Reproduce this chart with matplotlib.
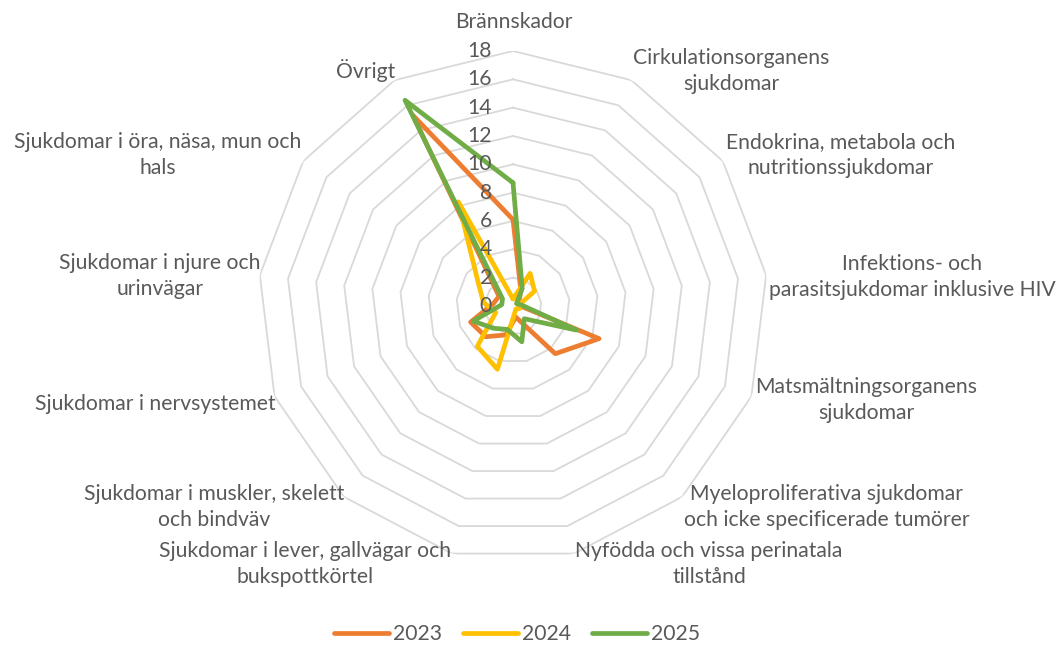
import numpy as np
import matplotlib.pyplot as plt

categories = [
    "Brännskador",
    "Cirkulationsorganens\nsjukdomar",
    "Endokrina, metabola och\nnutritionssjukdomar",
    "Infektions- och\nparasitsjukdomar inklusive HIV",
    "Matsmältningsorganens\nsjukdomar",
    "Myeloproliferativa sjukdomar\noch icke specificerade tumörer",
    "Nyfödda och vissa perinatala\ntillstånd",
    "Sjukdomar i lever, gallvägar och\nbukspottkörtel",
    "Sjukdomar i muskler, skelett\noch bindväv",
    "Sjukdomar i nervsystemet",
    "Sjukdomar i njure och\nurinvägar",
    "Sjukdomar i öra, näsa, mun och\nhals",
    "Övrigt",
]
v2023 = [6.1, 1.2, 0.5, 0.4, 6.5, 4.5, 0.8, 2.1, 2.9, 3.2, 1.4, 1.2, 15.2]
v2024 = [0.5, 2.6, 1.85, 0.4, 0.5, 0.3, 0.5, 4.6, 3.8, 1.3, 2.1, 3.0, 8.3]
v2025 = [8.7, 1.4, 0.3, 0.6, 4.8, 1.2, 2.6, 1.7, 2.1, 3.0, 0.8, 0.9, 16.4]
years = ["2023", "2024", "2025"]
colors = ["#ED7D31", "#FFC000", "#70AD47"]
rticks = list(range(0, 19, 2))

# label centres in pixels (x, y from top)
label_pos = [(514, 22), (731, 71), (841, 155), (912, 277), (866, 400),
             (827, 507), (709, 564), (305, 564), (214, 507), (155, 404),
             (160, 276), (158, 155), (366, 71)]

W, H = 1063, 649
fs = 15.2
fig = plt.figure(figsize=(W / 100, H / 100), dpi=100)
plt.rcParams['font.family'] = ['Lato', 'DejaVu Sans']
cx, cy, R = 513, 306, 255
ax = fig.add_axes([(cx - R) / W, (H - cy - R) / H, 2 * R / W, 2 * R / H], projection='polar')
ax.set_theta_zero_location('N')
ax.set_theta_direction(-1)
ax.set_ylim(0, 18)
ax.axis('off')

n = len(categories)
ang = np.linspace(0, 2 * np.pi, n, endpoint=False)
ang_c = np.append(ang, ang[0])

for r in rticks[1:]:
    ax.plot(ang_c, [r] * (n + 1), color='#d9d9d9', lw=1.3, zorder=1)

for vals, yr, c in zip([v2023, v2024, v2025], years, colors):
    ax.plot(ang_c, vals + vals[:1], color=c, lw=3.4, label=yr,
            solid_joinstyle='round', solid_capstyle='round', zorder=3)

for r in rticks:
    y = cy - r * R / 18
    fig.text(492 / W, 1 - y / H, str(r), ha='right', va='center',
             fontsize=fs, color='#595959')

for lab, (x, y) in zip(categories, label_pos):
    fig.text(x / W, 1 - y / H, lab, ha='center', va='center',
             fontsize=fs, color='#595959', linespacing=1.35)

fig.legend(loc='center', bbox_to_anchor=(517 / W, 1 - 634 / H), ncol=3,
           frameon=False, fontsize=fs, handlelength=2.6, handletextpad=0.2,
           columnspacing=1.0, labelcolor='#595959')

fig.savefig('out.png', dpi=100)
